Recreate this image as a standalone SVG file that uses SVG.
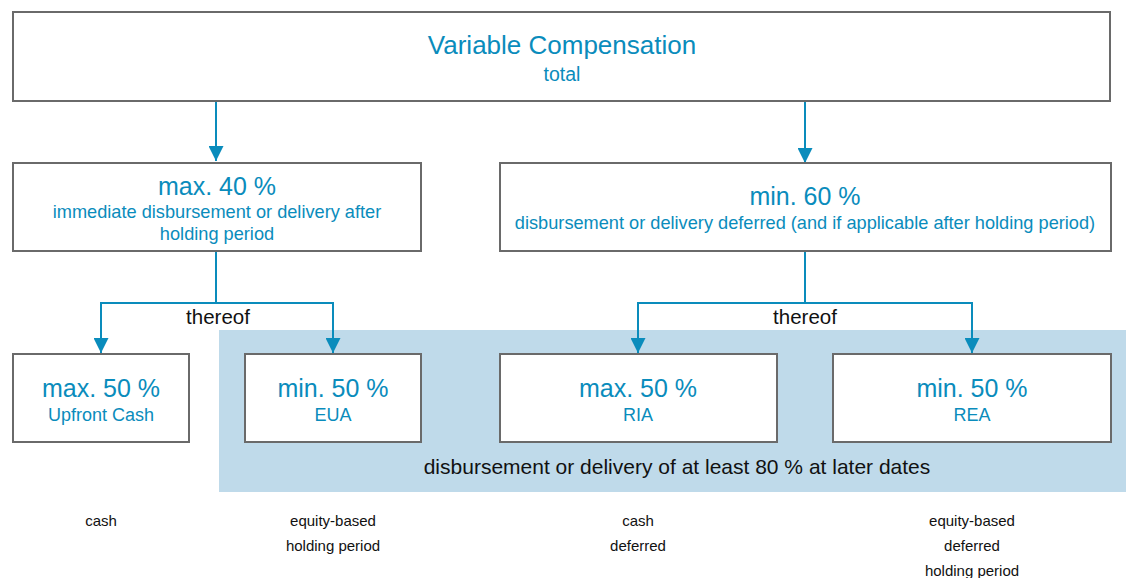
<svg xmlns="http://www.w3.org/2000/svg" width="1126" height="578" viewBox="0 0 1126 578">
<style>
.box{fill:#fff;stroke:#6a6a6a;stroke-width:2}
.t{font-family:"Liberation Sans",Arial,sans-serif;fill:#0a8cbc;text-anchor:middle}
.k{font-family:"Liberation Sans",Arial,sans-serif;fill:#111;text-anchor:middle}
.c{fill:none;stroke:#0a8cbc;stroke-width:2}
</style>
<defs>
<marker id="ah" viewBox="0 0 16 16" refX="16" refY="8" markerWidth="15" markerHeight="15" markerUnits="userSpaceOnUse" orient="auto">
<path d="M0,0 L16,8 L0,16 z" fill="#0a8cbc"/>
</marker>
</defs>
<rect x="219" y="330" width="907" height="162" fill="#bfdaea"/>
<text class="k" x="677" y="474" font-size="21">disbursement or delivery of at least 80 % at later dates</text>
<g id="connectors">
<path class="c" d="M216,101 V161" marker-end="url(#ah)"/>
<path class="c" d="M805,101 V163" marker-end="url(#ah)"/>
<path class="c" d="M216,251 V303 M101,303 H333"/>
<path class="c" d="M101,302 V353" marker-end="url(#ah)"/>
<path class="c" d="M333,302 V353" marker-end="url(#ah)"/>
<path class="c" d="M805,251 V303 M638,303 H972"/>
<path class="c" d="M638,302 V353" marker-end="url(#ah)"/>
<path class="c" d="M972,302 V353" marker-end="url(#ah)"/>
<text class="k" x="218" y="324" font-size="20.5">thereof</text>
<text class="k" x="805" y="324" font-size="20.5">thereof</text>
</g>
<g id="total">
<rect class="box" x="13" y="12" width="1097" height="89"/>
<text class="t" x="562" y="54" font-size="26">Variable Compensation</text>
<text class="t" x="562" y="81" font-size="19.5">total</text>
</g>
<g id="max40">
<rect class="box" x="13" y="163" width="408" height="88"/>
<text class="t" x="217" y="195" font-size="25">max. 40 %</text>
<text class="t" x="217" y="218" font-size="18.2">immediate disbursement or delivery after</text>
<text class="t" x="217" y="240" font-size="18.2">holding period</text>
</g>
<g id="min60">
<rect class="box" x="500" y="163" width="611" height="88"/>
<text class="t" x="805" y="205" font-size="25">min. 60 %</text>
<text class="t" x="805" y="229" font-size="18.2">disbursement or delivery deferred (and if applicable after holding period)</text>
</g>
<g id="upfront">
<rect class="box" x="13" y="354" width="176" height="88"/>
<text class="t" x="101" y="397" font-size="25">max. 50 %</text>
<text class="t" x="101" y="421" font-size="18">Upfront Cash</text>
</g>
<g id="eua">
<rect class="box" x="245" y="354" width="176" height="88"/>
<text class="t" x="333" y="397" font-size="25">min. 50 %</text>
<text class="t" x="333" y="421" font-size="18">EUA</text>
</g>
<g id="ria">
<rect class="box" x="500" y="354" width="277" height="88"/>
<text class="t" x="638" y="397" font-size="25">max. 50 %</text>
<text class="t" x="638" y="421" font-size="18">RIA</text>
</g>
<g id="rea">
<rect class="box" x="833" y="354" width="278" height="88"/>
<text class="t" x="972" y="397" font-size="25">min. 50 %</text>
<text class="t" x="972" y="421" font-size="18">REA</text>
</g>
<g id="labels">
<text class="k" x="101" y="526" font-size="15">cash</text>
<text class="k" x="333" y="526" font-size="15">equity-based</text>
<text class="k" x="333" y="551" font-size="15">holding period</text>
<text class="k" x="638" y="526" font-size="15">cash</text>
<text class="k" x="638" y="551" font-size="15">deferred</text>
<text class="k" x="972" y="526" font-size="15">equity-based</text>
<text class="k" x="972" y="551" font-size="15">deferred</text>
<text class="k" x="972" y="576" font-size="15">holding period</text>
</g>
</svg>
